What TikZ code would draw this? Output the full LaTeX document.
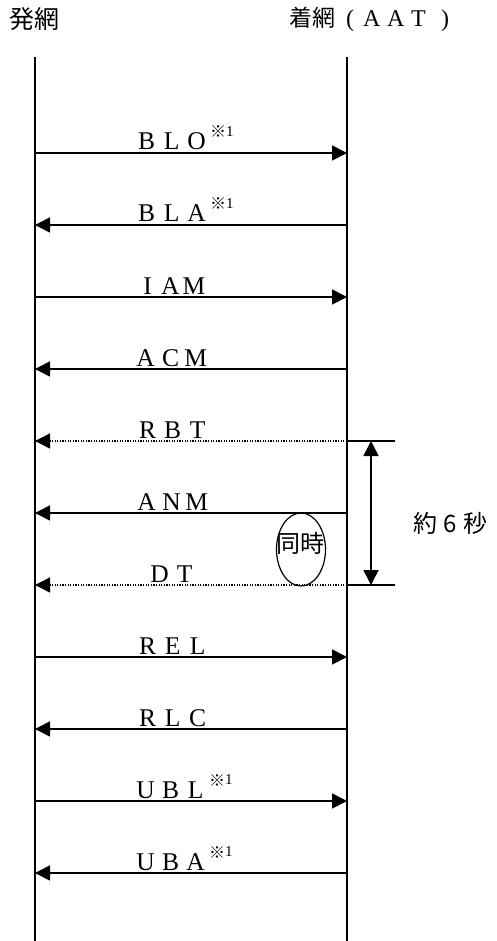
\documentclass[tikz,border=0pt]{standalone}
\usepackage{fontspec}
\setmainfont{Liberation Serif}
\newfontfamily\jpfont{Noto Sans CJK JP}
\usetikzlibrary{arrows.meta,shapes.geometric}
\newcommand{\fw}[1]{\makebox[25pt]{#1}}
\newcommand{\kome}{\hspace{1pt}\raisebox{12pt}{\jpfont\fontsize{16}{16}\selectfont ※}\raisebox{13.5pt}{\fontsize{15}{15}\selectfont 1}}
\begin{document}
\begin{tikzpicture}[x=1pt,y=-1pt,
  lbl/.style={anchor=base west, inner sep=0pt, font=\fontsize{25.5}{25.5}\selectfont},
  head/.style={inner sep=0pt, font=\jpfont\fontsize{25}{25}\selectfont},
  life/.style={line width=1.6pt},
  msg/.style={line width=1.6pt, -{Triangle[length=15pt,width=15pt]}},
  dmsg/.style={line width=1.3pt, dash pattern=on 1.3pt off 1.3pt, -{Triangle[length=15pt,width=15pt]}},
  dim/.style={line width=1.6pt, {Triangle[length=15pt,width=15pt]}-{Triangle[length=15pt,width=15pt]}}]
\useasboundingbox (0,0) rectangle (496,941);
% headers
\node[head, anchor=west] (hA) at (9,19) {発網};
\node[head, anchor=west, font=\jpfont\fontsize{23}{23}\selectfont] (hB) at (289,19)
  {着網{\fontspec{Liberation Serif}\fontsize{24}{24}\selectfont\kern11pt(\kern9pt\makebox[24pt][l]{A}\makebox[24pt][l]{A}\makebox[24pt][l]{T}\kern6pt)}};
% lifelines
\coordinate (Ltop) at (35,57);
\coordinate (Lbot) at (35,941);
\coordinate (Rtop) at (347,57);
\coordinate (Rbot) at (347,941);
\draw[life] (Ltop) -- (Lbot);
\draw[life] (Rtop) -- (Rbot);
% message endpoints
\foreach \i/\y in {1/153,2/225,3/297,4/369,5/441,6/513,7/585,8/657,9/729,10/801,11/873}{
  \coordinate (L\i) at (35,\y);
  \coordinate (R\i) at (347,\y);
}
\draw[msg] (L1) -- (R1);
\draw[msg] (R2) -- (L2);
\draw[msg] (L3) -- (R3);
\draw[msg] (R4) -- (L4);
\draw[dmsg] (R5) -- (L5);
\draw[msg] (R6) -- (L6);
\draw[dmsg] (R7) -- (L7);
\draw[msg] (L8) -- (R8);
\draw[msg] (R9) -- (L9);
\draw[msg] (L10) -- (R10);
\draw[msg] (R11) -- (L11);
% labels
\node[lbl] (t1) at (134,150) {\fw{B}\fw{L}\fw{O}\kome};
\node[lbl] (t2) at (134,222) {\fw{B}\fw{L}\fw{A}\kome};
\node[lbl] (t3) at (135,294) {\fw{I}\hspace{1pt}A\hspace{3pt}M};
\node[lbl] (t4) at (133,366) {\fw{A}\fw{C}\fw{M}};
\node[lbl] (t5) at (135,438) {\fw{R}\fw{B}\fw{T}};
\node[lbl] (t6) at (134,510) {\fw{A}\fw{N}\fw{M}};
\node[lbl] (t7) at (147,582) {\fw{D}\fw{T}};
\node[lbl] (t8) at (135,654) {\fw{R}\fw{E}\fw{L}};
\node[lbl] (t9) at (135,726) {\fw{R}\fw{L}\fw{C}};
\node[lbl] (t10) at (133,798) {\fw{U}\fw{B}\fw{L}\kome};
\node[lbl] (t11) at (133,870) {\fw{U}\fw{B}\fw{A}\kome};
% simultaneous mark
\node[ellipse, draw, line width=1.2pt, minimum width=49pt, minimum height=73pt, inner sep=0pt] (el) at (301,549.5) {};
\node[head, font=\jpfont\fontsize{24}{24}\selectfont] (sim) at (300,543) {同時};
% duration
\coordinate (D1) at (395,441);
\coordinate (D2) at (395,585);
\coordinate (A1) at (371,441);
\coordinate (A2) at (371,585);
\draw[life] (R5) -- (D1);
\draw[life] (R7) -- (D2);
\draw[dim] (A1) -- (A2);
\node[head, anchor=west, font=\jpfont\fontsize{24}{24}\selectfont] (dur) at (413,523) {約\makebox[26pt]{6}秒};
\end{tikzpicture}
\end{document}
